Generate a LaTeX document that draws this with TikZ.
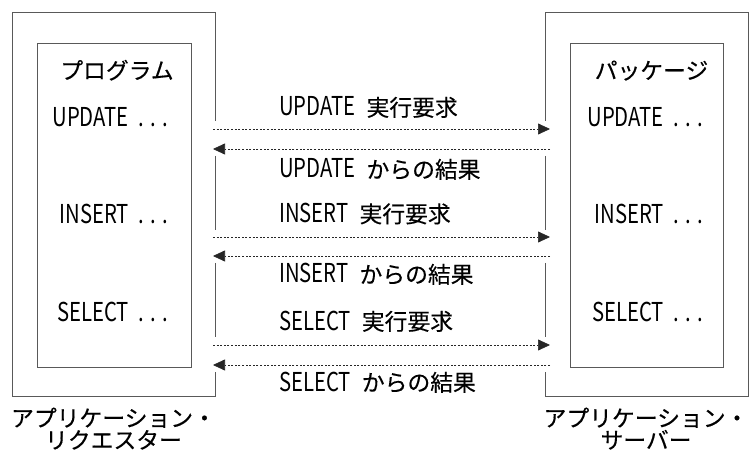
\documentclass[tikz,border=0pt]{standalone}
\usepackage{fontspec}
\setmainfont{Noto Sans CJK JP}[FakeBold=0.3]
\newfontfamily\latfam{Noto Sans CJK JP}[FakeStretch=0.78]
\usetikzlibrary{arrows.meta}
\newcommand\lat{\latfam\fontsize{26}{22}\selectfont}
\newcommand\pdots{\makebox[12pt]{.}\makebox[12pt]{.}\makebox[12pt]{.}}
\newcommand\gap{\hspace{11pt}}
\tikzset{
  frame/.style={draw=black!65, line width=0.9pt},
  msg/.style={draw=black!85, line width=0.7pt, dash pattern=on 2pt off 1.6pt,
    -{Triangle[length=12pt,width=11pt]}},
  txt/.style={inner sep=0pt, font=\fontsize{22.8}{22}\selectfont},
}

\begin{document}
\begin{tikzpicture}[x=1pt,y=-1pt]
		%%%%% START %%%%%
		\useasboundingbox (0,0) rectangle (752,454);
		
		% requester
		\draw[frame] (215,121) -- (215,12) -- (12,12) -- (12,396) -- (215,396) -- (215,372);
		\draw[frame] (215,156) -- (215,230);
		\draw[frame] (215,263) -- (215,337);
		\draw[frame] (37,43) rectangle (191,367);
		
		% server
		\draw[frame] (545,121) -- (545,12) -- (748,12) -- (748,396) -- (545,396) -- (545,372);
		\draw[frame] (545,156) -- (545,230);
		\draw[frame] (545,263) -- (545,337);
		\draw[frame] (570,43) rectangle (723,367);
		
		\node[txt, anchor=base] (prog) at (117,79) {プログラム};
		\node[txt, anchor=base east] (pupd) at (172,127) {{\lat UPDATE}\hspace{7pt}{\lat\pdots}};
		\node[txt, anchor=base east] (pins) at (172,224) {{\lat INSERT}\hspace{7pt}{\lat\pdots}};
		\node[txt, anchor=base east] (psel) at (172,321) {{\lat SELECT}\hspace{7pt}{\lat\pdots}};
		
		\node[txt, anchor=base] (pkg) at (651.5,79) {パッケージ};
		\node[txt, anchor=base east] (kupd) at (707,127) {{\lat UPDATE}\hspace{7pt}{\lat\pdots}};
		\node[txt, anchor=base east] (kins) at (707,224) {{\lat INSERT}\hspace{7pt}{\lat\pdots}};
		\node[txt, anchor=base east] (ksel) at (707,321) {{\lat SELECT}\hspace{7pt}{\lat\pdots}};
		
		% messages
		\coordinate (req1l) at (213,129); \coordinate (req1r) at (550,129);
		\coordinate (res1l) at (213,149); \coordinate (res1r) at (550,149);
		\coordinate (req2l) at (213,237); \coordinate (req2r) at (550,237);
		\coordinate (res2l) at (213,256); \coordinate (res2r) at (550,256);
		\coordinate (req3l) at (213,345); \coordinate (req3r) at (550,345);
		\coordinate (res3l) at (213,365); \coordinate (res3r) at (550,365);
		
		\draw[msg] (req1l) -- (req1r);
		\draw[msg] (res1r) -- (res1l);
		\draw[msg] (req2l) -- (req2r);
		\draw[msg] (res2r) -- (res2l);
		\draw[msg] (req3l) -- (req3r);
		\draw[msg] (res3r) -- (res3l);
		
		\node[txt, anchor=base west] (lreq1) at (279,116) {{\lat UPDATE}\gap 実行要求};
		\node[txt, anchor=base west] (lres1) at (279,178) {{\lat UPDATE}\gap からの結果};
		\node[txt, anchor=base west] (lreq2) at (279,222.5) {{\lat INSERT}\gap 実行要求};
		\node[txt, anchor=base west] (lres2) at (279,283) {{\lat INSERT}\gap からの結果};
		\node[txt, anchor=base west] (lreq3) at (279,330) {{\lat SELECT}\gap 実行要求};
		\node[txt, anchor=base west] (lres3) at (279,391) {{\lat SELECT}\gap からの結果};
		
		\node[txt, anchor=base, align=center] (requester) at (113.5,448.6) {アプリケーション・\\リクエスター};
		\node[txt, anchor=base, align=center] (server) at (646,448.6) {アプリケーション・\\サーバー};
		%%%%% END %%%%%
\end{tikzpicture}
\end{document}
